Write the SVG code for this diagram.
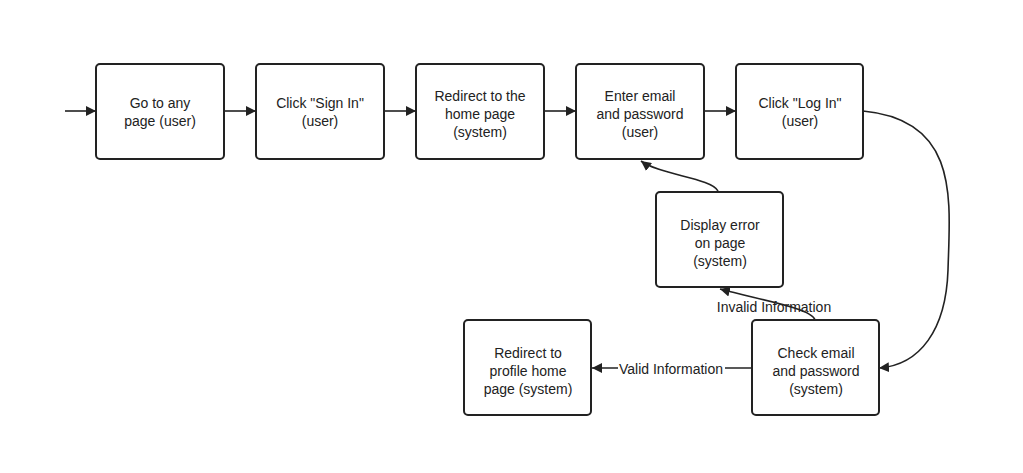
<svg xmlns="http://www.w3.org/2000/svg" width="1023" height="473" viewBox="0 0 1023 473">
<style>
.n rect{fill:#fff;stroke:#222;stroke-width:2}
text{font-family:"Liberation Sans",Arial,sans-serif;font-size:14px;fill:#222;text-anchor:middle}
.c path{fill:none;stroke:#222;stroke-width:1.6}
</style>
<defs><marker id="a" viewBox="0 0 10 10" refX="10" refY="5" markerWidth="10" markerHeight="10" markerUnits="userSpaceOnUse" orient="auto"><path d="M0,0L10,5L0,10z" fill="#222"/></marker></defs>
<rect width="1023" height="473" fill="#fff"/>
<g class="c">
<path d="M65,111H96" marker-end="url(#a)"/>
<path d="M224,111H256" marker-end="url(#a)"/>
<path d="M384,111H416" marker-end="url(#a)"/>
<path d="M544,111H576" marker-end="url(#a)"/>
<path d="M704,111H736" marker-end="url(#a)"/>
<path d="M863,111C960,120 950,200 948,270C946,330 920,365 879,368" marker-end="url(#a)"/>
<path d="M718,191C712,178 660,175 641,161" marker-end="url(#a)"/>
<path d="M815,320C812,308 760,300 720,289" marker-end="url(#a)"/>
<path d="M752,368H592" marker-end="url(#a)"/>
</g>
<rect x="618" y="361" width="107" height="16" fill="#fff"/>
<text x="671" y="374">Valid Information</text>
<text x="774" y="312">Invalid Information</text>
<g class="n" id="n1"><rect x="96" y="64" width="128" height="95" rx="4"/><text x="160" y="108">Go to any</text><text x="160" y="126">page (user)</text></g>
<g class="n" id="n2"><rect x="256" y="64" width="128" height="95" rx="4"/><text x="320" y="108">Click "Sign In"</text><text x="320" y="126">(user)</text></g>
<g class="n" id="n3"><rect x="416" y="64" width="128" height="95" rx="4"/><text x="480" y="101">Redirect to the</text><text x="480" y="119">home page</text><text x="480" y="137">(system)</text></g>
<g class="n" id="n4"><rect x="576" y="64" width="128" height="95" rx="4"/><text x="640" y="101">Enter email</text><text x="640" y="119">and password</text><text x="640" y="137">(user)</text></g>
<g class="n" id="n5"><rect x="736" y="64" width="127" height="95" rx="4"/><text x="800" y="108">Click "Log In"</text><text x="800" y="126">(user)</text></g>
<g class="n" id="n6"><rect x="656" y="192" width="127" height="95" rx="4"/><text x="720" y="230">Display error</text><text x="720" y="248">on page</text><text x="720" y="266">(system)</text></g>
<g class="n" id="n7"><rect x="752" y="320" width="127" height="95" rx="4"/><text x="816" y="358">Check email</text><text x="816" y="376">and password</text><text x="816" y="394">(system)</text></g>
<g class="n" id="n8"><rect x="464" y="320" width="127" height="95" rx="4"/><text x="528" y="358">Redirect to</text><text x="528" y="376">profile home</text><text x="528" y="394">page (system)</text></g>
</svg>
